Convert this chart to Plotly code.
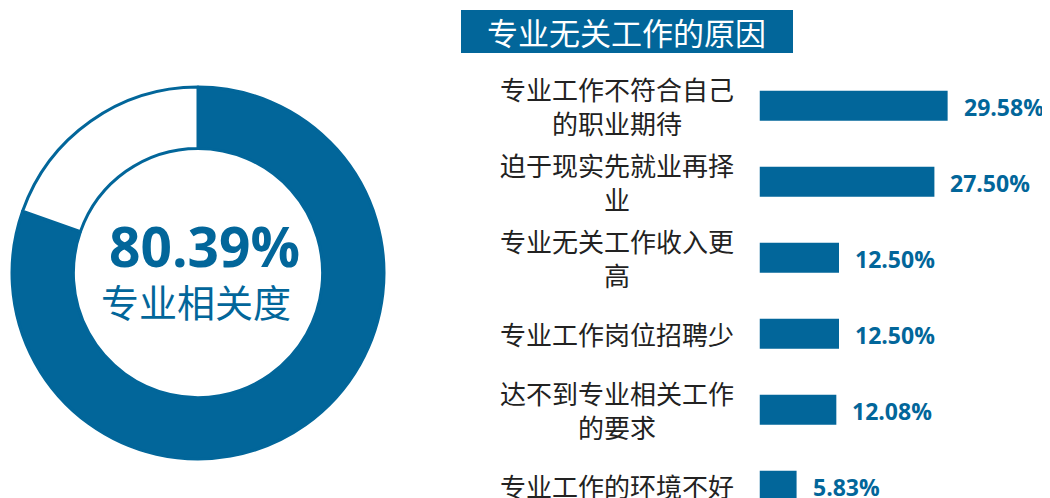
import plotly.graph_objects as go

# ---- data ----
donut_labels = ["专业相关", "专业无关"]
donut_values = [80.39, 19.61]
center_value = "80.39%"
center_label = "专业相关度"

title_text = "专业无关工作的原因"
reasons = [
    "专业工作不符合自己<br>的职业期待",
    "迫于现实先就业再择<br>业",
    "专业无关工作收入更<br>高",
    "专业工作岗位招聘少",
    "达不到专业相关工作<br>的要求",
    "专业工作的环境不好",
]
reason_values = [29.58, 27.50, 12.50, 12.50, 12.08, 5.83]

BLUE = "#02669A"
SW, SH = 1050, 498      # screen size
OFF = 8                 # default page body margin
W, H = SW - OFF, SH - OFF


def px(x):
    """screen x -> paper fraction"""
    return (x - OFF) / W


def py(y):
    """screen y (from top) -> paper fraction (from bottom)"""
    return (H - (y - OFF)) / H


fig = go.Figure()

# donut
cx, cy, r = 198, 273, 186
fig.add_trace(go.Pie(
    labels=donut_labels, values=donut_values,
    hole=0.67, sort=False, direction="clockwise", rotation=0,
    marker=dict(colors=[BLUE, "white"], line=dict(color=BLUE, width=3)),
    textinfo="none", hoverinfo="skip", showlegend=False,
    domain=dict(x=[px(cx - r), px(cx + r)], y=[py(cy + r), py(cy - r)]),
))

# bars
px_per_pct = 6.36
x0 = 759.5
fig.add_trace(go.Bar(
    x=reason_values, y=reasons, orientation="h",
    marker=dict(color=BLUE, line=dict(width=0)),
    width=0.395, showlegend=False, hoverinfo="skip",
    xaxis="x", yaxis="y",
))

for lab, v in zip(reasons, reason_values):
    fig.add_annotation(
        x=v, y=lab, xref="x", yref="y", text=f"{v:.2f}%",
        showarrow=False, xanchor="left", yanchor="middle", xshift=14, yshift=-1,
        font=dict(family="Open Sans", size=23, color=BLUE, weight="bold"),
    )
    fig.add_annotation(
        x=px(736), y=lab, xref="paper", yref="y", text=lab,
        showarrow=False, xanchor="right", yanchor="middle", align="center",
        font=dict(family="Noto Sans CJK SC", size=26, color="#222222"),
    )

# center text of donut
fig.add_annotation(x=px(cx + 6), y=py(245), xref="paper", yref="paper",
                   text=f"<b>{center_value}</b>", showarrow=False,
                   xanchor="center", yanchor="middle",
                   font=dict(family="Open Sans", size=55, color=BLUE))
fig.add_annotation(x=px(cx - 2), y=py(300), xref="paper", yref="paper",
                   text=center_label, showarrow=False,
                   xanchor="center", yanchor="middle",
                   font=dict(family="Noto Sans CJK SC", size=38, color=BLUE))

# title box
fig.add_shape(type="rect", xref="paper", yref="paper",
              x0=px(461), x1=px(793), y0=py(53), y1=py(10),
              fillcolor=BLUE, line=dict(width=0), layer="below")
fig.add_annotation(x=px(626), y=py(31.5), xref="paper", yref="paper",
                   text=title_text, showarrow=False, xanchor="center", yanchor="middle",
                   font=dict(family="Noto Sans CJK SC", size=31, color="white"))

# axes (positions in screen px converted to figure px)
c_first, c_last = 105.8, 485.7
upp = 5 / (c_last - c_first)
fig.update_layout(
    width=W, height=H, margin=dict(l=0, r=0, t=0, b=0),
    paper_bgcolor="white", plot_bgcolor="white",
    xaxis=dict(domain=[px(x0), 1], range=[0, (SW - x0) / px_per_pct],
               visible=False, fixedrange=True),
    yaxis=dict(domain=[0, 1], type="category",
               range=[5 + (SH - c_last) * upp, -(c_first - OFF) * upp],
               visible=False, fixedrange=True),
)

fig.write_html("out.html")
